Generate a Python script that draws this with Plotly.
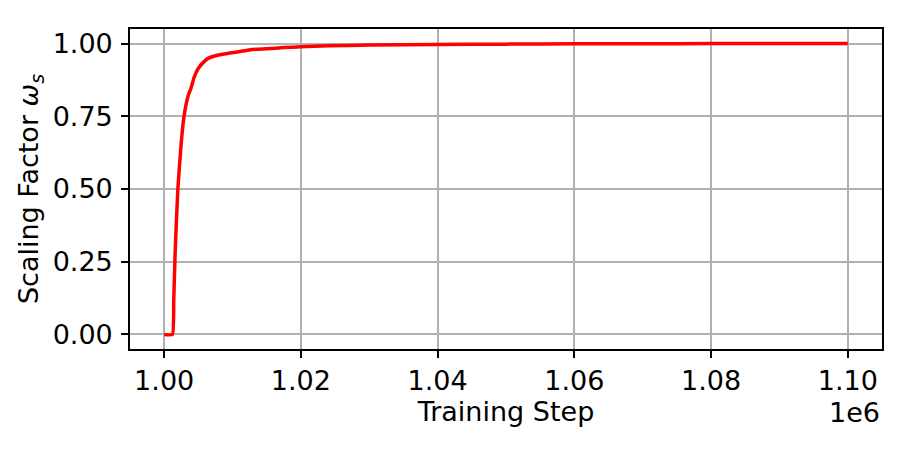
import plotly.graph_objects as go

# training step vs. scaling factor
steps = [1000000, 1001200, 1001400, 1001600, 1002000, 1002500, 1002900, 1003500,
         1003900, 1004400, 1005000, 1005800, 1006500, 1007800, 1009000, 1010700,
         1012600, 1015000, 1017500, 1020000, 1024000, 1030000, 1040000, 1050000,
         1060000, 1070000, 1080000, 1090000, 1100000]
omega = [0.0, 0.0, 0.12, 0.28, 0.50, 0.66, 0.75, 0.82,
         0.845, 0.885, 0.915, 0.937, 0.950, 0.960, 0.965, 0.971,
         0.979, 0.982, 0.986, 0.989, 0.992, 0.995, 0.997, 0.998,
         0.999, 0.9995, 0.9998, 0.9999, 1.0]

x_ticks = [1000000, 1020000, 1040000, 1060000, 1080000, 1100000]
x_labels = ["1.00", "1.02", "1.04", "1.06", "1.08", "1.10"]
y_ticks = [0.0, 0.25, 0.5, 0.75, 1.0]
y_labels = ["0.00", "0.25", "0.50", "0.75", "1.00"]

font = dict(family="DejaVu Sans, sans-serif", size=27, color="black")

fig = go.Figure()
fig.add_trace(
    go.Scatter(
        x=steps,
        y=omega,
        mode="lines",
        line=dict(color="#ff0000", width=3.5, shape="spline", smoothing=0.4),
        showlegend=False,
    )
)

axis_common = dict(
    showgrid=True,
    gridcolor="#b0b0b0",
    gridwidth=1.6,
    zeroline=False,
    showline=True,
    linecolor="black",
    linewidth=1.6,
    mirror=True,
    ticks="outside",
    ticklen=7,
    tickwidth=1.6,
    tickcolor="black",
    tickfont=font,
)

# the page body adds an 8px offset, so margins are shifted to compensate
fig.update_layout(
    width=913,
    height=457,
    margin=dict(l=122, r=39, t=21, b=116),
    plot_bgcolor="white",
    paper_bgcolor="white",
    font=font,
    xaxis=dict(
        range=[995000, 1105000],
        tickvals=x_ticks,
        ticktext=x_labels,
        title=dict(text="Training Step", font=font, standoff=4),
        **axis_common,
    ),
    yaxis=dict(
        range=[-0.05, 1.05],
        tickvals=y_ticks,
        ticktext=y_labels,
        ticklabelstandoff=3,
        title=dict(text="Scaling Factor <i>ω</i><sub><i>s</i></sub>", font=font, standoff=6),
        **axis_common,
    ),
    annotations=[
        dict(
            text="1e6",
            xref="paper",
            yref="paper",
            x=1.0,
            y=0,
            xanchor="right",
            yanchor="top",
            yshift=-46,
            showarrow=False,
            font=font,
        )
    ],
)

fig.write_html("out.html")
